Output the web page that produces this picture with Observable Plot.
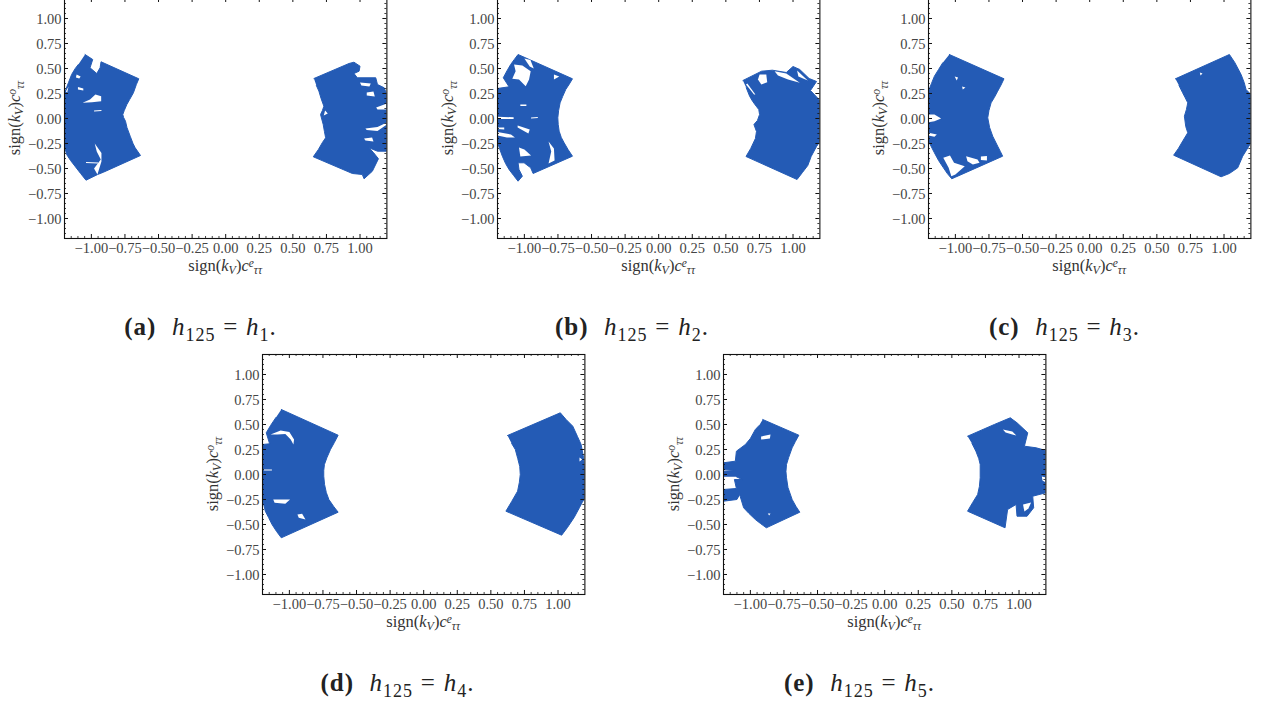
<!DOCTYPE html>
<html><head><meta charset="utf-8">
<script src="https://cdn.jsdelivr.net/npm/d3@7"></script>
<script src="https://cdn.jsdelivr.net/npm/@observablehq/plot@0.6"></script>
<style>
html,body{margin:0;padding:0;background:#fff;width:1266px;height:707px;overflow:hidden}
.panel{position:absolute}
.panel svg{display:block;background:transparent}
.cap{position:absolute;font-family:"Liberation Serif",serif;font-size:25px;letter-spacing:1px;word-spacing:0.5px;color:#222;white-space:nowrap;transform:translateX(-50%);line-height:28px}
.cap sub{font-size:18px;line-height:0}
</style></head><body>
<script>
const majorTicks=[-1,-0.75,-0.5,-0.25,0,0.25,0.5,0.75,1];
const minorTicks=[-1.15,-1.1,-1.05,-0.95,-0.9,-0.85,-0.8,-0.7,-0.65,-0.6,-0.55,-0.45,-0.4,-0.35,-0.3,-0.2,-0.15,-0.1,-0.05,0.05,0.1,0.15,0.2,0.3,0.35,0.4,0.45,0.55,0.6,0.65,0.7,0.8,0.85,0.9,0.95,1.05,1.1,1.15];
const fillBlue="#245bb5";

const aLeft=[[-1.047,.64],[-.99,.59],[-1.01,.507],[-.96,.45],[-.935,.507],[-.928,.567],[-.647,.397],[-.665,.34],[-.687,.257],[-.715,.19],[-.736,.14],[-.755,.08],[-.766,.04],[-.76,.01],[-.746,-.027],[-.735,-.09],[-.711,-.177],[-.69,-.25],[-.674,-.293],[-.634,-.37],[-.91,-.537],[-.953,-.56],[-1.04,-.617],[-1.08,-.55],[-1.122,-.477],[-1.155,-.42],[-1.184,-.36],[-1.2,-.277],[-1.2,.257],[-1.19,.29],[-1.17,.36],[-1.147,.44],[-1.12,.5],[-1.097,.54]];
const aLeftHoles=[
 [[-1.065,.157],[-1.01,.19],[-.97,.24],[-.927,.223],[-.927,.173],[-.995,.163]],
 [[-.975,-.25],[-.925,-.345],[-.925,-.43],[-.955,-.56],[-.98,-.5],[-.93,-.41],[-.96,-.33]],
 [[-1.1,.315],[-1.06,.3],[-1.06,.28],[-1.1,.29]],
 [[-1.11,.44],[-1.08,.42],[-1.09,.4],[-1.115,.41]],
 [[-1.19,.27],[-1.17,.32],[-1.18,.26]],
 [[-1.04,-.435],[-.95,-.44],[-.95,-.45],[-1.04,-.445]],
 [[-.98,.08],[-.925,.085],[-.925,.075],[-.98,.07]]
];
const aRight=[[.657,.4],[.918,.55],[.955,.563],[1,.523],[.993,.473],[.955,.45],[.98,.407],[1.117,.407],[1.13,.34],[1.18,.307],[1.2,.24],[1.2,-.327],[1.13,-.327],[1.067,-.293],[1.1,-.34],[1.137,-.403],[1.092,-.527],[1.03,-.603],[1.017,-.56],[.943,-.55],[.652,-.383],[.69,-.31],[.72,-.24],[.744,-.193],[.735,-.13],[.726,-.06],[.706,.04],[.72,.08],[.731,.123],[.71,.2],[.694,.273],[.675,.33]];
const aRightHoles=[
 [[1.0,.36],[1.08,.35],[1.07,.32],[1.01,.33]],
 [[1.05,.26],[1.1,.27],[1.11,.22],[1.05,.23]],
 [[1.12,.11],[1.2,.15],[1.2,.09],[1.13,.09]],
 [[1.04,-.1],[1.13,-.085],[1.2,-.04],[1.2,-.06],[1.13,-.125],[1.05,-.115]],
 [[1.03,-.2],[1.09,-.19],[1.1,-.23],[1.04,-.22]],
 [[.74,.08],[.76,.05],[.73,.03]]
];

const bLeft=[[-1.2,.3],[-1.114,.317],[-1.157,.407],[-1.13,.475],[-1.102,.54],[-1.075,.59],[-1.047,.64],[-.642,.397],[-.665,.345],[-.692,.29],[-.715,.22],[-.734,.157],[-.745,.08],[-.751,.007],[-.748,-.06],[-.741,-.127],[-.725,-.19],[-.704,-.243],[-.675,-.31],[-.642,-.377],[-.935,-.55],[-.953,-.493],[-1.002,-.443],[-1.047,-.443],[-1.04,-.51],[-1.015,-.577],[-1.047,-.627],[-1.08,-.57],[-1.114,-.51],[-1.14,-.45],[-1.164,-.377],[-1.185,-.3],[-1.2,-.243]];
const bLeftHoles=[
 [[-1.077,.54],[-1.015,.53],[-.953,.473],[-.965,.39],[-.99,.323],[-1.04,.39],[-1.09,.397],[-1.065,.473]],
 [[-1,.6],[-.955,.585],[-.93,.5],[-.96,.52]],
 [[-1.2,.017],[-1.08,.012],[-1.08,-.005],[-1.2,-.005]],
 [[-1.2,-.09],[-1.15,-.09],[-1.15,-.11],[-1.2,-.105]],
 [[-1.05,-.07],[-.96,-.11],[-.97,-.15],[-1.05,-.09]],
 [[-1.2,-.135],[-1.1,-.16],[-1.07,-.19],[-1.13,-.19],[-1.2,-.17]],
 [[-1.03,.14],[-.985,.14],[-.985,.125],[-1.03,.125]],
 [[-1.04,-.29],[-1,-.31],[-.95,-.37],[-1.03,-.38]],
 [[-.82,-.23],[-.78,-.3],[-.775,-.42],[-.82,-.45],[-.8,-.33]],
 [[-.95,.01],[-.9,.015],[-.9,.005],[-.95,0]],
 [[-.78,.44],[-.74,.42],[-.78,.39]]
];
const bRight=[[.627,.38],[.766,.473],[.846,.483],[.95,.46],[1,.52],[1.05,.49],[1.12,.4],[1.175,.37],[1.13,.28],[1.2,.18],[1.2,-.23],[1.175,-.28],[1.135,-.38],[1.11,-.47],[1.07,-.54],[1.03,-.61],[.65,-.38],[.685,-.3],[.72,-.2],[.728,-.13],[.709,-.06],[.735,-.02],[.751,.04],[.745,.09],[.726,.123],[.7,.17],[.677,.223],[.652,.307]];
const bRightHoles=[
 [[.751,.44],[.801,.44],[.808,.363],[.764,.34],[.739,.39]],
 [[.863,.473],[.95,.45],[1.05,.357],[.963,.39],[.888,.43]],
 [[.66,.35],[.72,.24],[.71,.24],[.65,.34]],
 [[1.03,.48],[1.11,.38],[1.04,.42]]
];

const cLeft=[[-1.045,.64],[-.638,.397],[-.66,.335],[-.685,.273],[-.71,.21],[-.734,.157],[-.75,.08],[-.759,.007],[-.745,-.09],[-.722,-.177],[-.685,-.277],[-.665,-.33],[-.648,-.377],[-1,-.587],[-1.027,-.603],[-1.06,-.55],[-1.089,-.493],[-1.125,-.42],[-1.156,-.343],[-1.2,-.227],[-1.2,.273],[-1.178,.35],[-1.156,.423],[-1.125,.49],[-1.094,.557]];
const cLeftHoles=[
 [[-1.09,-.393],[-1.04,-.37],[-1.01,-.443],[-.93,-.477],[-1,-.56],[-1.03,-.577],[-1.05,-.493]],
 [[-.92,-.377],[-.835,-.41],[-.82,-.443],[-.87,-.46],[-.91,-.427]],
 [[-.81,-.38],[-.765,-.375],[-.765,-.42],[-.81,-.415]],
 [[-1.2,.04],[-1.156,.04],[-1.106,0],[-1.156,-.027],[-1.2,-.037]],
 [[-1.2,-.143],[-1.138,-.16],[-1.156,-.183],[-1.2,-.17]],
 [[-1.005,.42],[-.98,.41],[-.99,.38]],
 [[-.95,.32],[-.925,.31],[-.945,.29]]
];
const cRight=[[.638,.397],[1.04,.64],[1.08,.56],[1.127,.44],[1.15,.36],[1.164,.29],[1.2,.24],[1.2,-.243],[1.17,-.31],[1.139,-.377],[1.102,-.493],[1.04,-.55],[.978,-.583],[.625,-.367],[.66,-.3],[.695,-.22],[.73,-.143],[.715,-.08],[.705,.023],[.72,.09],[.73,.157],[.71,.21],[.692,.257],[.665,.33]];
const cRightHoles=[[[.82,.46],[.84,.45],[.825,.43]]];

const dLeft=[[-1.06,.65],[-.637,.393],[-.665,.32],[-.694,.25],[-.72,.17],[-.739,.1],[-.744,.04],[-.744,-.017],[-.738,-.1],[-.725,-.18],[-.706,-.25],[-.67,-.32],[-.637,-.377],[-1.06,-.633],[-1.095,-.57],[-1.129,-.5],[-1.155,-.43],[-1.179,-.367],[-1.2,-.25],[-1.2,.3],[-1.147,.307],[-1.172,.417],[-1.14,.49],[-1.1,.57]];
const dLeftHoles=[
 [[-1.14,.4],[-1.065,.44],[-1,.425],[-.965,.35],[-.97,.3],[-.99,.35],[-1.03,.405],[-1.09,.4]],
 [[-1.12,-.25],[-.995,-.25],[-1.03,-.293],[-1.11,-.283]],
 [[-.94,-.4],[-.905,-.393],[-.88,-.45],[-.93,-.433]],
 [[-1.19,.05],[-1.13,.05],[-1.13,.04],[-1.19,.04]]
];
const dRight=[[.624,.39],[1.017,.617],[1.06,.55],[1.11,.483],[1.145,.38],[1.172,.3],[1.19,.17],[1.2,.033],[1.2,-.233],[1.18,-.28],[1.159,-.333],[1.12,-.43],[1.07,-.53],[1.027,-.607],[.612,-.367],[.655,-.27],[.699,-.167],[.712,-.08],[.719,0],[.715,.08],[.7,.16],[.682,.25],[.655,.31]];
const dRightHoles=[[[1.16,.17],[1.18,.15],[1.16,.13]]];

const eLeft=[[-.908,.55],[-.639,.393],[-.665,.33],[-.689,.267],[-.715,.17],[-.731,.1],[-.735,.03],[-.731,-.033],[-.72,-.13],[-.689,-.25],[-.66,-.32],[-.632,-.377],[-.881,-.533],[-.925,-.49],[-.963,-.45],[-1.01,-.39],[-1.05,-.333],[-1.08,-.2],[-1.1,-.25],[-1.2,-.267],[-1.2,-.15],[-1.104,-.14],[-1.119,-.05],[-1.062,-.05],[-1.112,-.017],[-1.2,-.017],[-1.2,.033],[-1.112,.04],[-1.2,.05],[-1.2,.117],[-1.112,.133],[-1.104,.233],[-1.037,.3],[-1,.36],[-.963,.45],[-.935,.49]];
const eLeftHoles=[
 [[-.92,.38],[-.85,.4],[-.855,.36],[-.92,.35]],
 [[-.87,-.39],[-.85,-.39],[-.86,-.41]]
];
const eRight=[[.617,.383],[.816,.5],[.935,.567],[.985,.517],[1.065,.417],[1.04,.283],[1.127,.267],[1.2,.24],[1.2,-.183],[1.102,-.217],[1.109,-.333],[1.06,-.417],[.985,-.417],[.978,-.3],[.915,-.35],[.896,-.533],[.617,-.367],[.655,-.28],[.692,-.2],[.705,-.12],[.711,-.033],[.711,.1],[.7,.16],[.679,.233],[.65,.31]];
const eRightHoles=[
 [[.88,.45],[.95,.43],[.98,.39],[.95,.4],[.9,.42]],
 [[1.03,-.3],[1.09,-.28],[1.07,-.34],[1.04,-.37]],
 [[1.17,-.02],[1.2,-.03],[1.2,-.08],[1.175,-.06]]
];

const panels=[
 {left:64.3,top:-1.7,caption:"a",sub:"1",cx:200.5,cy:316,lobes:[aLeft,aRight],holes:[...aLeftHoles,...aRightHoles]},
 {left:496.5,top:-1.7,caption:"b",sub:"2",cx:632,cy:316,lobes:[bLeft,bRight],holes:[...bLeftHoles,...bRightHoles]},
 {left:928.3,top:-1.7,caption:"c",sub:"3",cx:1064.5,cy:316,lobes:[cLeft,cRight],holes:[...cLeftHoles,...cRightHoles]},
 {left:261.7,top:354.3,caption:"d",sub:"4",cx:397.5,cy:672,lobes:[dLeft,dRight],holes:[...dLeftHoles,...dRightHoles]},
 {left:722.7,top:354.3,caption:"e",sub:"5",cx:859.5,cy:672,lobes:[eLeft,eRight],holes:[...eLeftHoles,...eRightHoles]}
];

const mL=66,mR=6,mT=6,mB=50,W=322.4,H=240;
const serif='"Liberation Serif",serif';

function axisLabel(sup,vertical){
 return (index,scales,values,dim)=>{
  const g=d3.create("svg:text").attr("text-anchor","middle").attr("font-family",serif).attr("font-size",16.5).attr("fill","#333");
  if(vertical) g.attr("transform",`translate(${dim.marginLeft-44},${dim.marginTop+H/2}) rotate(-90)`);
  else g.attr("transform",`translate(${dim.marginLeft+W/2},${dim.marginTop+H+33})`);
  const t=(s,o={})=>{const e=g.append("tspan").text(s);
    if(o.i) e.attr("font-style","italic"); if(o.fs) e.attr("font-size",o.fs);
    if(o.dy) e.attr("dy",o.dy); if(o.dx) e.attr("dx",o.dx);};
  t("sign(");t("k",{i:1});t("V",{i:1,fs:12,dy:3});t(")",{dy:-3});t("c",{i:1});
  t(sup,{i:1,fs:11.5,dy:-4});t("ττ",{i:1,fs:11.5,dy:7.5});
  return g.node();
 };
}

const fmt=d3.format(".2f");
for(const p of panels){
 const marks=[];
 for(const poly of p.lobes) marks.push(Plot.line(poly,{x:d=>d[0],y:d=>d[1],fill:fillBlue,stroke:fillBlue,strokeWidth:1,curve:"linear",clip:"frame"}));
 for(const h of p.holes) marks.push(Plot.line(h,{x:d=>d[0],y:d=>d[1],fill:"white",stroke:"none",curve:"linear",clip:"frame"}));
 const tick=(ts,len,w)=>[
  Plot.ruleX(ts,{y1:-1.2,y2:-1.2+len/100,stroke:"#111",strokeWidth:w}),
  Plot.ruleX(ts,{y1:1.2,y2:1.2-len/100,stroke:"#111",strokeWidth:w}),
  Plot.ruleY(ts,{x1:-1.2,x2:-1.2+len/134.3,stroke:"#111",strokeWidth:w}),
  Plot.ruleY(ts,{x1:1.2,x2:1.2-len/134.3,stroke:"#111",strokeWidth:w})
 ];
 marks.push(...tick(majorTicks,4,1),...tick(minorTicks,2,.8));
 marks.push(Plot.frame({stroke:"#111",strokeWidth:1.1}));
 marks.push(Plot.axisX({anchor:"bottom",ticks:majorTicks,tickSize:0,tickPadding:4,tickFormat:fmt,label:null,fontSize:14.5,fill:"#444"}));
 marks.push(Plot.axisY({anchor:"left",ticks:majorTicks,tickSize:0,tickPadding:3,dy:0.7,tickFormat:fmt,label:null,fontSize:14.5,fill:"#444"}));
 marks.push(axisLabel("e",false),axisLabel("o",true));
 const svg=Plot.plot({width:mL+W+mR,height:mT+H+mB,marginLeft:mL,marginRight:mR,marginTop:mT,marginBottom:mB,
  x:{domain:[-1.2,1.2]},y:{domain:[-1.2,1.2]},style:{fontFamily:serif,background:"transparent"},marks});
 const d=document.createElement("div");d.className="panel";
 d.style.left=(p.left-mL)+"px";d.style.top=(p.top-mT)+"px";d.appendChild(svg);document.body.appendChild(d);
 const c=document.createElement("div");c.className="cap";c.style.left=p.cx+"px";c.style.top=p.cy-3+"px";
 c.innerHTML=`<b>(${p.caption})</b>&nbsp; <i>h</i><sub>125</sub> = <i>h</i><sub>${p.sub}</sub>.`;
 document.body.appendChild(c);
}
</script>
</body></html>
